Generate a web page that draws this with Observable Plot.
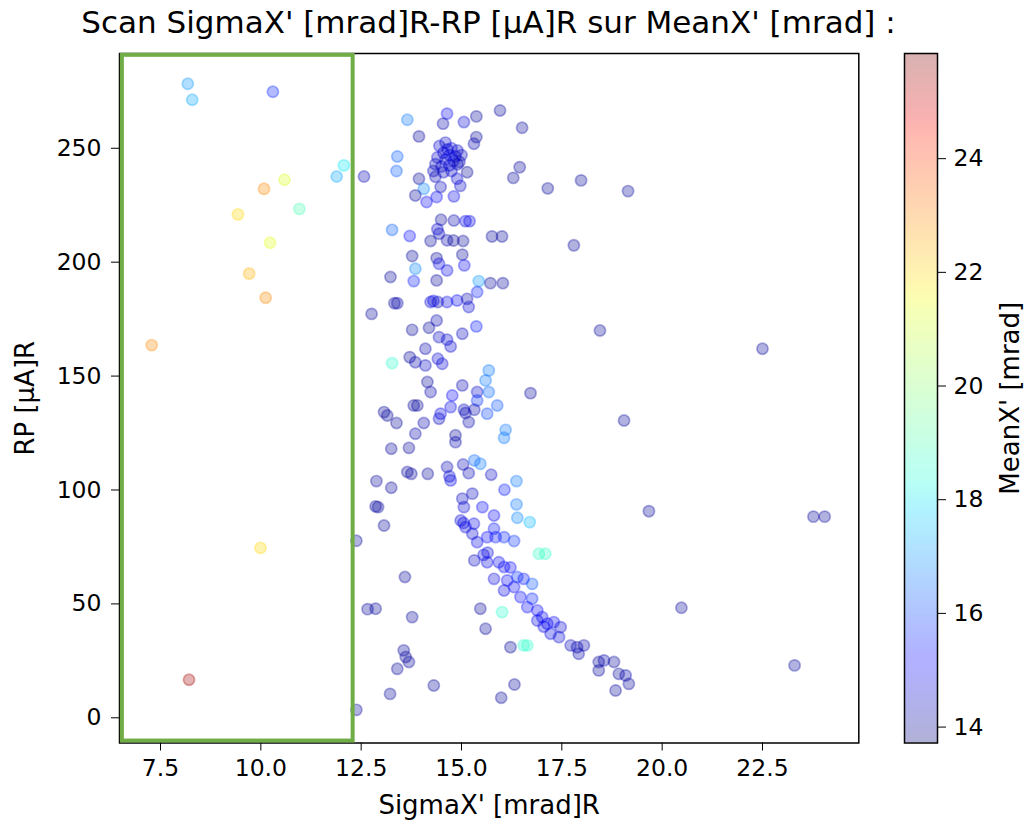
<!DOCTYPE html>
<html><head><meta charset="utf-8">
<script src="https://cdn.jsdelivr.net/npm/d3@7"></script>
<script src="https://cdn.jsdelivr.net/npm/@observablehq/plot@0.6"></script>
<style>
html,body{margin:0;padding:0;background:#fff;}
body{width:1024px;height:823px;position:relative;overflow:hidden;font-family:"DejaVu Sans";}
#title{position:absolute;left:0;top:0;width:977px;height:45px;text-align:center;font-size:31px;line-height:45px;color:#000;white-space:nowrap;}
#main{position:absolute;left:0;top:45px;}
#cbar{position:absolute;left:880px;top:45px;}
svg text{font-family:"DejaVu Sans";}
</style>
</head><body>
<div id="title">Scan SigmaX' [mrad]R-RP [µA]R sur MeanX' [mrad] :</div>
<div id="main"></div>
<div id="cbar"></div>
<script>
// ---- data ----
const sigmaX = [
8.18,8.29,10.30,12.07,11.89,12.57,10.59,10.08,9.43,10.96,10.23,9.71,10.12,7.28,12.76,9.99,8.21,12.38,12.66,12.86,12.38,
13.65,14.64,14.54,15.06,15.37,15.96,16.51,13.94,15.37,15.31,
14.45,14.60,14.75,14.90,14.55,14.70,14.85,15.00,14.40,14.60,14.80,14.35,14.50,14.70,14.90,14.30,14.55,14.75,14.95,14.65,
13.40,13.38,13.94,15.14,16.45,16.29,17.15,17.98,19.15,14.06,13.85,14.13,14.38,14.81,14.48,14.89,14.35,14.97,
14.49,14.81,15.10,15.20,13.27,13.71,14.44,14.40,14.23,14.64,14.80,15.04,15.76,16.01,17.80,13.77,13.85,14.38,14.44,14.64,15.02,15.07,
13.23,13.81,14.38,15.43,15.72,16.03,13.33,13.40,14.23,14.41,14.64,14.89,15.14,15.39,15.18,14.30,
13.77,14.19,14.38,14.44,14.64,14.73,15.02,15.37,18.45,22.50,13.27,13.71,13.85,14.10,14.10,14.41,14.52,15.68,15.60,
14.15,14.23,15.02,14.77,15.39,15.68,16.72,
13.07,13.15,13.38,13.81,13.90,14.06,14.44,14.48,14.73,15.06,15.10,15.18,15.39,15.32,15.64,15.89,19.05,16.10,16.06,
13.85,14.85,14.85,13.25,13.69,14.64,14.73,14.70,15.04,15.18,15.32,15.47,15.74,13.65,13.75,14.16,12.88,13.25,12.86,12.92,13.07,
16.07,16.37,16.37,16.39,16.70,16.93,17.09,15.27,15.02,15.06,15.52,15.81,14.98,15.05,15.10,15.31,15.27,15.39,15.64,15.81,16.06,16.31,15.85,
15.32,15.55,15.65,15.64,15.93,15.81,16.06,16.22,16.14,16.39,16.55,16.76,16.06,16.31,16.47,16.76,16.64,16.89,17.01,17.14,17.30,17.47,16.89,17.05,
17.22,17.43,17.72,17.88,18.05,17.92,18.42,18.55,18.80,18.42,18.92,19.09,19.17,18.84,
16.01,16.55,16.64,16.22,15.47,15.60,13.77,13.59,13.56,13.61,13.69,13.40,14.31,13.22,16.32,15.99,19.67,20.48,23.30,23.77,24.05
];
const rp = [
278.3,271.3,274.8,242.5,237.6,237.6,236.2,232.2,221.0,223.4,208.5,195.0,184.4,163.6,177.3,74.6,16.7,77.7,47.7,47.9,3.5,
262.5,265.2,260.8,261.5,264.0,266.6,259.0,255.2,254.9,252.0,
251.0,252.5,250.0,249.0,248.0,247.0,246.5,247.0,246.0,245.0,244.5,243.0,242.0,242.5,243.0,240.0,239.5,240.0,244.0,249.5,
246.4,240.0,236.6,239.5,241.7,237.0,232.4,235.9,231.2,232.2,229.3,226.4,228.6,228.9,233.0,236.6,237.5,233.5,
218.6,218.3,218.0,218.0,214.2,211.5,212.5,214.5,209.3,209.6,209.5,209.3,211.3,211.3,207.4,202.7,197.1,201.8,199.3,196.4,203.3,198.6,
193.5,191.7,192.0,191.7,190.8,190.8,182.0,182.0,182.5,182.5,182.5,183.2,183.9,186.9,180.3,183.0,
170.3,171.2,174.4,167.1,166.0,163.0,168.6,171.8,170.0,162.0,155.7,158.3,156.1,154.7,162.0,157.6,155.4,152.5,148.1,
147.4,143.0,145.9,141.5,143.0,143.0,142.5,
134.2,132.7,129.4,137.1,137.1,129.4,131.3,133.5,136.4,135.2,133.8,129.8,139.3,135.2,133.5,137.1,130.5,126.4,122.9,
124.7,124.0,121.0,118.1,118.5,110.1,104.2,106.0,111.2,107.4,113.0,111.5,106.7,107.9,107.1,107.1,103.9,101.0,92.8,92.5,84.4,
100.1,103.9,93.7,87.8,85.9,72.0,72.0,98.4,96.2,92.5,92.5,88.8,86.6,85.5,83.7,85.2,80.8,77.1,79.3,83.0,79.3,77.6,79.3,
69.1,71.5,72.5,68.3,68.3,61.0,66.2,66.0,60.3,61.8,61.0,58.8,55.9,57.4,53.0,52.3,48.6,47.1,44.2,41.3,42.0,39.8,42.7,40.0,
36.9,35.4,31.8,31.0,31.8,28.1,24.5,25.2,24.5,20.8,19.3,18.6,14.9,12.0,
46.4,31.8,31.8,31.0,47.9,39.1,44.2,61.8,29.6,26.7,24.5,21.5,14.2,10.5,14.6,8.8,90.7,48.3,23.0,88.3,88.3
];
const meanX = [
17.0,17.2,15.6,18.0,17.2,14.3,21.2,23.0,22.0,19.0,21.3,22.5,23.0,23.0,14.0,22.0,25.5,14.0,14.0,14.0,14.0,
16.6,15.0,14.2,14.6,14.0,14.0,14.0,14.0,14.0,14.2,
14.6,14.5,14.7,14.5,14.6,14.8,14.5,14.4,14.5,14.6,14.7,14.4,14.5,14.6,14.3,14.3,14.4,14.5,14.3,14.6,
16.3,16.3,14.0,14.0,14.0,14.0,14.0,14.0,14.0,16.8,14.0,15.0,15.0,14.8,14.4,14.6,14.3,14.5,
14.0,14.2,14.8,14.8,16.3,15.3,14.3,14.6,14.0,14.2,14.0,14.0,14.0,14.0,14.0,14.0,16.8,14.0,14.8,14.8,14.0,15.0,
14.0,15.5,14.0,17.0,14.0,14.0,14.0,14.2,14.6,14.2,14.8,15.0,14.2,15.5,14.6,14.8,
14.0,14.0,14.2,14.4,14.6,14.6,14.4,15.5,14.0,14.0,18.6,14.0,14.2,14.4,14.2,14.6,14.6,16.6,16.6,
14.0,14.2,14.3,15.0,14.5,16.4,14.0,
14.0,14.0,14.0,14.0,14.0,14.2,14.4,14.8,14.8,14.4,14.2,14.2,15.8,14.2,16.0,16.2,14.0,16.6,16.6,
14.2,14.0,14.2,14.0,14.0,14.3,14.8,14.6,14.3,14.3,16.4,16.6,14.4,14.0,14.0,14.0,14.0,14.0,14.0,14.0,14.0,
15.5,16.6,16.6,16.8,17.4,18.7,18.7,14.4,14.4,14.6,15.0,15.0,14.6,14.8,14.7,14.8,14.6,14.8,15.2,15.4,15.6,15.8,15.4,
14.4,14.8,14.7,14.8,15.0,14.7,15.0,15.2,15.0,15.8,15.4,16.2,14.8,15.0,15.2,15.6,15.0,15.2,15.0,15.0,15.0,14.6,14.8,14.8,
14.8,14.6,14.4,14.2,14.2,14.2,14.0,14.2,14.0,14.0,14.0,14.2,14.0,14.0,
18.6,18.6,18.6,14.0,14.0,14.0,14.0,14.0,14.0,14.0,14.0,14.0,14.0,14.0,14.0,14.0,14.0,14.0,14.0,14.0,14.0
];
const xTicks = [7.5, 10, 12.5, 15, 17.5, 20, 22.5];
const yTicks = [0, 50, 100, 150, 200, 250];
const cbTicks = [14, 16, 18, 20, 22, 24];
const xDomain = [6.478, 24.9];
const yDomain = [-11.06, 291.6];
const colorDomain = [13.72, 25.85];
const highlight = [{x1: 6.55, x2: 12.30, y1: -10.2, y2: 290.8}];
const xLabel = "SigmaX' [mrad]R";
const yLabel = "RP [µA]R";
const cLabel = "MeanX' [mrad]";

// matplotlib "jet" colormap
function seg(t, pts) {
  for (let i = 1; i < pts.length; i++) {
    if (t <= pts[i][0]) {
      const [t0, v0] = pts[i - 1], [t1, v1] = pts[i];
      return v0 + (v1 - v0) * (t - t0) / (t1 - t0);
    }
  }
  return pts[pts.length - 1][1];
}
function jet(t) {
  t = Math.max(0, Math.min(1, t));
  const r = seg(t, [[0,0],[0.35,0],[0.66,1],[0.89,1],[1,0.5]]);
  const g = seg(t, [[0,0],[0.125,0],[0.375,1],[0.64,1],[0.91,0],[1,0]]);
  const b = seg(t, [[0,0.5],[0.11,1],[0.34,1],[0.65,0],[1,0]]);
  return `rgb(${Math.round(r*255)},${Math.round(g*255)},${Math.round(b*255)})`;
}

const FS = 23.5;
const LFS = 26;
const pts = sigmaX.map((x, i) => ({x, y: rp[i], m: meanX[i]}));
const colorOpts = {type: "linear", domain: colorDomain, interpolate: jet};
const style = {fontFamily: "DejaVu Sans", fontSize: FS + "px", background: "white", color: "black", overflow: "visible"};

const main = Plot.plot({
  width: 890, height: 778,
  marginLeft: 119, marginRight: 31.7, marginTop: 8, marginBottom: 80.5,
  x: {domain: xDomain},
  y: {domain: yDomain},
  color: colorOpts,
  style,
  marks: [
    Plot.axisX({ticks: xTicks, tickFormat: d => d.toFixed(1), tickSize: 8, tickPadding: 8, fontSize: FS, label: null}),
    Plot.axisY({ticks: yTicks, tickSize: 8, tickPadding: 10, fontSize: FS, label: null}),
    Plot.text([xLabel], {text: d => d, frameAnchor: "bottom", dy: 62.5, lineAnchor: "middle", textAnchor: "middle", fontSize: LFS, fill: "black"}),
    Plot.text([yLabel], {text: d => d, frameAnchor: "left", dx: -94, rotate: -90, lineAnchor: "middle", textAnchor: "middle", fontSize: LFS, fill: "black"}),
    Plot.dot(pts, {x: "x", y: "y", fill: "m", stroke: "m", r: 5.6, fillOpacity: 0.3, strokeOpacity: 0.32, strokeWidth: 1.7}),
    Plot.frame({stroke: "black", strokeWidth: 1.5}),
    Plot.rect(highlight, {x1: "x1", x2: "x2", y1: "y1", y2: "y2", fill: "none", stroke: "#70AD47", strokeWidth: 4})
  ]
});
document.getElementById("main").append(main);

const nSteps = 300;
const stepSize = (colorDomain[1] - colorDomain[0]) / nSteps;
const ramp = d3.range(nSteps).map(i => colorDomain[0] + i * stepSize);
const cbar = Plot.plot({
  width: 144, height: 778,
  marginLeft: 24, marginRight: 87, marginTop: 8, marginBottom: 80.5,
  x: {domain: [0, 1], axis: null},
  y: {domain: colorDomain},
  color: colorOpts,
  style,
  marks: [
    Plot.rect(ramp, {x1: 0, x2: 1, y1: d => d, y2: d => Math.min(colorDomain[1], d + stepSize * 1.6), fill: d => d + stepSize / 2, ariaLabel: "colorramp"}),
    Plot.frame({stroke: "black", strokeWidth: 1.5}),
    Plot.axisY({anchor: "right", ticks: cbTicks, tickSize: 8, tickPadding: 8, fontSize: FS, label: null}),
    Plot.text([cLabel], {text: d => d, frameAnchor: "right", dx: 73, rotate: -90, lineAnchor: "middle", textAnchor: "middle", fontSize: LFS, fill: "black"})
  ]
});
// apply matplotlib's alpha=0.3 to the whole ramp group (avoids overlap seams)
cbar.querySelectorAll('g[aria-label="colorramp"], g[aria-label="rect"]').forEach(g => g.setAttribute("opacity", 0.3));
document.getElementById("cbar").append(cbar);
</script>
</body></html>
